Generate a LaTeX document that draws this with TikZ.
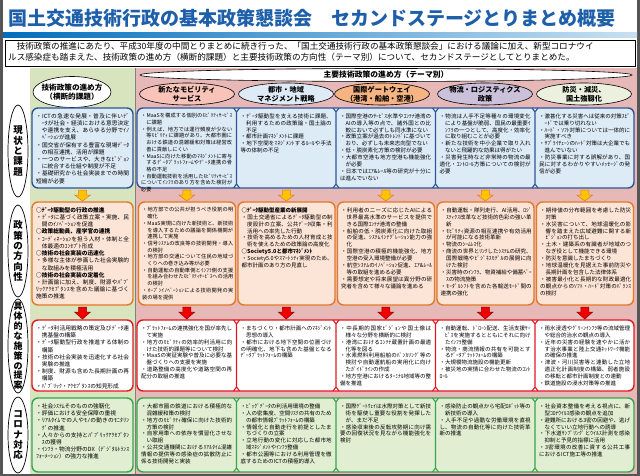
\documentclass[tikz,border=0pt]{standalone}
\usepackage{fontspec}
\setmainfont{Noto Sans CJK JP}
\XeTeXlinebreaklocale "ja"
\XeTeXlinebreakskip=0pt plus 0.6pt
\usepackage{xcolor}
\usepackage{tikz}
\usetikzlibrary{shapes.geometric, positioning, calc}

\definecolor{titleblue}{RGB}{30,95,170}
\definecolor{bandblue}{RGB}{0,110,190}
\definecolor{bandlight}{RGB}{200,225,242}
\definecolor{framegray}{RGB}{85,85,85}
\definecolor{greenbg}{RGB}{215,228,189}
\definecolor{pinkbg}{RGB}{230,185,184}
\definecolor{bluefill}{RGB}{221,235,247}
\definecolor{blueline}{RGB}{47,85,151}
\definecolor{peachfill}{RGB}{252,228,214}
\definecolor{orangeline}{RGB}{226,122,40}
\definecolor{redline}{RGB}{225,25,35}
\definecolor{greenfill}{RGB}{226,238,210}
\definecolor{greenline}{RGB}{55,165,80}
\definecolor{mobyfill}{RGB}{248,196,186}
\definecolor{cityfill}{RGB}{222,235,247}
\definecolor{gatefill}{RGB}{245,180,130}
\definecolor{logifill}{RGB}{204,193,218}
\definecolor{safefill}{RGB}{235,241,222}
\definecolor{arryellow}{RGB}{255,195,0}
\definecolor{arrred}{RGB}{240,0,0}

\newcommand\itm[1]{\par\hangindent=1em\hangafter=1\noindent ・#1}
\newcommand\hd[1]{\par\noindent{\bfseries ○#1}}

\begin{document}
\begin{tikzpicture}[x=1pt,y=-1pt,
  txt/.style={anchor=north west, inner sep=0pt, text width=91pt, align=justify,
    font=\fontsize{5.5}{6.95}\selectfont},
  txts/.style={txt, font=\fontsize{5.2}{6.7}\selectfont},
  panel/.style={rounded corners=6pt, line width=1.4pt},
  issue/.style={panel, draw=blueline, fill=bluefill},
  policy/.style={panel, draw=orangeline, fill=peachfill},
  measure/.style={panel, draw=redline, fill=white},
  corona/.style={panel, draw=greenline, fill=greenfill},
  hdoval/.style={ellipse, draw=black, line width=0.6pt, minimum width=95pt,
    minimum height=22pt, inner sep=0pt},
  hdtxt/.style={align=center, font=\fontsize{7.2}{8.6}\selectfont\bfseries},
  sideoval/.style={ellipse, draw=black, fill=white, line width=0.7pt,
    minimum width=20pt, inner sep=0pt},
  sidetxt/.style={align=center, font=\fontsize{9.5}{10.4}\selectfont\bfseries},
]

\def\pw{640}
\def\ph{476}

\useasboundingbox (0,0) rectangle (\pw,\ph);

% frame and backgrounds
\fill[framegray] (0,0) rectangle (\pw,\ph);
\fill[white] (3,0) rectangle (637,474);
\shade[left color=bandblue, right color=bandlight] (3,33) rectangle (637,38);
\fill[greenbg] (30,68) rectangle (135,474);
\fill[pinkbg] (135,68) rectangle (637,474);
\draw[line width=0.8pt, gray] (135,68) -- (135,474);

% title and intro
\node[anchor=west, inner sep=0pt, text=titleblue, font=\fontsize{19}{19}\selectfont\bfseries] (title) at (8,18)
  {国土交通技術行政の基本政策懇談会　セカンドステージとりまとめ概要};
\draw[line width=0.6pt, fill=white] (5,40) rectangle (635,66);
\node[anchor=north west, inner sep=0pt, align=left, font=\fontsize{8.6}{11}\selectfont] (intro) at (8,42)
  {　技術政策の推進にあたり、平成30年度の中間とりまとめに続き行った、「国土交通技術行政の基本政策懇談会」における議論に加え、新型コロナウイ\\ルス感染症も踏まえた、技術政策の進め方（横断的課題）と主要技術政策の方向性（テーマ別）について、セカンドステージとしてとりまとめた。};

% headers
\node[hdoval, fill=white, minimum width=78pt, minimum height=31pt,
  label={[hdtxt, font=\fontsize{7.6}{9.4}\selectfont\bfseries]center:技術政策の進め方\\（横断的課題）}] (h1) at (72,92) {};
\node[ellipse, draw=black, fill=white, line width=0.6pt, minimum width=492pt, minimum height=13pt, inner sep=0pt,
  label={[hdtxt, font=\fontsize{7.8}{9}\selectfont\bfseries]center:主要技術政策の進め方（テーマ別）}] (htop) at (386,75) {};
\node[hdoval, fill=mobyfill, label={[hdtxt]center:新たなモビリティ\\サービス}] (h2) at (187,94) {};
\node[hdoval, fill=cityfill, label={[hdtxt]center:都市・地域\\マネジメント戦略}] (h3) at (286,94) {};
\node[hdoval, fill=gatefill, label={[hdtxt]center:国際ゲートウェイ\\（港湾・船舶・空港）}] (h4) at (382,94) {};
\node[hdoval, fill=logifill, label={[hdtxt]center:物流・ロジスティクス\\政策}] (h5) at (485,94) {};
\node[hdoval, fill=safefill, label={[hdtxt]center:防災・減災、\\国土強靱化}] (h6) at (584,94) {};

% side labels
\node[sideoval, minimum height=92pt, label={[sidetxt]center:現\\状\\と\\課\\題}] (s1) at (18,151) {};
\node[sideoval, minimum height=92pt, label={[sidetxt]center:政\\策\\の\\方\\向\\性}] (s2) at (18,251) {};
\node[sideoval, minimum height=94pt, label={[sidetxt, font=\fontsize{9}{9.9}\selectfont\bfseries]center:具\\体\\的\\な\\施\\策\\の\\提\\案}] (s3) at (18,346) {};
\node[sideoval, minimum height=76pt, label={[sidetxt]center:コ\\ロ\\ナ\\対\\応}] (s4) at (18,435) {};

% row panels
\draw[issue] (32,108) rectangle (133,188);
\draw[issue] (137,108) rectangle (634,188);
\foreach \x in {236.5,336,435.5,535} {
  \draw[blueline, line width=1.1pt] (\x-3,108) -- (\x,112) -- (\x+3,108) (\x,112) -- (\x,184) (\x-3,188) -- (\x,184) -- (\x+3,188);
}

\draw[policy] (32,202) rectangle (133,305);
\foreach \x in {137,236.5,336,435.5,535} {
  \draw[policy] (\x+1.5,202) rectangle (\x+98.5,305);
}

\draw[measure] (32,320) rectangle (133,391);
\draw[measure] (137,320) rectangle (634,391);
\foreach \x in {236.5,336,435.5,535} {
  \draw[redline, line width=1.1pt] (\x-3,320) -- (\x,324) -- (\x+3,320) (\x,324) -- (\x,387) (\x-3,391) -- (\x,387) -- (\x+3,391);
}

\draw[corona] (32,398) rectangle (133,472);
\draw[corona] (137,398) rectangle (634,472);
\foreach \x in {236.5,336,435.5,535} {
  \draw[greenline, line width=1.1pt] (\x-3,398) -- (\x,402) -- (\x+3,398) (\x,402) -- (\x,468) (\x-3,472) -- (\x,468) -- (\x+3,472);
}

% arrows between rows
\foreach \x in {82.5,186.75,286.25,385.75,485.25,584.75} {
  \filldraw[fill=arryellow, draw=orangeline, line width=0.5pt]
    (\x-4,190) -- (\x+4,190) -- (\x+4,195) -- (\x+8,195) -- (\x,201) -- (\x-8,195) -- (\x-4,195) -- cycle;
  \filldraw[fill=arrred, draw=red!60!black, line width=0.5pt]
    (\x-4,307) -- (\x+4,307) -- (\x+4,312) -- (\x+8,312) -- (\x,319) -- (\x-8,312) -- (\x-4,312) -- cycle;
}

% row 1: current state and issues
\node[txt, text width=93pt, font=\fontsize{5.7}{7.2}\selectfont] (t11) at (36,111) {%
  \itm{ICTの急速な発展・普及に伴いﾃﾞｰﾀが社会・経済における意思決定や連携を支え、あらゆる分野でｲﾉﾍﾞｰｼｮﾝが進展}
  \itm{国交省が保有する豊富な現場ﾃﾞｰﾀの相互連携、活用が課題}
  \itm{一つのサービスや、大きなﾋﾞｼﾞｮﾝに統合する仕組や制度が不足}
  \itm{基礎研究から社会実装までの時間短縮が必要}};
\node[txts] (t21) at (141,111) {%
  \itm{MaaSを構成する個別のﾓﾋﾞﾘﾃｨｻｰﾋﾞｽに課題}
  \itm{例えば、地方では運行頻度が少ない等ﾓﾋﾞﾘﾃｨに課題があり、大都市圏における鉄道の混雑緩和対策は経営改善に貢献しにくい}
  \itm{MaaSに向けた移動のﾏﾈｼﾞﾒﾝﾄに寄与するﾃﾞｰﾀﾌﾟﾗｯﾄﾌｫｰﾑやﾃﾞｰﾀ連携の骨格の不足}
  \itm{自動運転技術を活用したﾓﾋﾞﾘﾃｨｻｰﾋﾞｽについてｲﾝﾌﾗのあり方を含めた検討が必要}};
\node[txt] (t31) at (240.5,111) {%
  \itm{ﾃﾞｰﾀ駆動型を支える技術に課題、利用するための政策論・国土論の不足}
  \itm{都市計画ﾏﾈｼﾞﾒﾝﾄに課題}
  \itm{地下空間をﾏﾈｼﾞﾒﾝﾄするﾙｰﾙや手法等の体制の不足}};
\node[txt] (t41) at (340,111) {%
  \itm{国際空港のｻｰﾋﾞｽ水準やｺﾝﾃﾅ港湾のAIの導入等の点で、諸外国との比較において必ずしも同水準にない}
  \itm{政策立案が過去のﾄﾚﾝﾄﾞに基づいており、必ずしも未来志向型でない}
  \itm{低・脱炭素化方策の検討が必要}
  \itm{大都市空港も地方空港も機能強化が必要}
  \itm{日本ではｴｱ\&ﾚｰﾙ等の研究が十分には進んでいない}};
\node[txt] (t51) at (439.5,111) {%
  \itm{物流は人手不足等種々の環境変化により基盤が脆弱、国民の最重要ｲﾝﾌﾗの一つとして、高度化・効率化に取り組むことが必要}
  \itm{新たな技術を中小企業で取り入れないと飛躍的な効果は得がたい}
  \itm{災害発生時など非常時の物流の最適化・ｺﾝﾄﾛｰﾙ方策についての検討が必要}};
\node[txt] (t61) at (539,111) {%
  \itm{激甚化する災害へは従来の対策ｽﾋﾟｰﾄﾞでは乗り切れない}
  \itm{ﾊｰﾄﾞ・ｿﾌﾄ対策については一体的に実施すべき}
  \itm{ｻﾌﾟﾗｲﾁｪｰﾝのﾊｰﾄﾞ対策は大企業でも進んでいない}
  \itm{防災事業に対する誤解があり、国民に対するわかりやすいﾒｯｾｰｼﾞの発信が必要}};

% row 2: policy direction
\node[txt, text width=93pt, font=\fontsize{5.7}{7.2}\selectfont] (t12) at (36,205) {%
  \hd{ﾃﾞｰﾀ駆動型の行政の推進}
  \itm{ﾃﾞｰﾀに基づく政策立案・実施、民間のｲﾉﾍﾞｰｼｮﾝを促進}
  \hd{政策総動員、産学官の連携}
  \itm{ｺｰﾃﾞｨﾈｰｼｮﾝを担う人材・体制と全体最適のｺﾝｾﾌﾟﾄ形成}
  \hd{技術の社会実装の迅速化}
  \itm{多様な主体が参画した社会実験的な取組みを積極活用}
  \hd{技術の社会実装の定着化}
  \itm{計画論に加え、制度、財源やﾊﾟﾌﾞﾘｯｸｱｸｾﾌﾟﾀﾝｽを含めた議論に基づく施策の推進}};
\node[txts] (t22) at (142,205) {%
  \itm{地方部での公共が担うべき役割の明確化}
  \itm{MaaS実現に向けた新技術と、新技術を導入するための議論を関係機関が連携して実施}
  \itm{信号ｼｽﾃﾑの改良等の技術開発・導入の検討}
  \itm{地方部の交通について住民の地域づくりへの巻き込み等が必要}
  \itm{自動運転の自動車側とｲﾝﾌﾗ側の支援を組み合わせたﾓﾋﾞﾘﾃｨｻｰﾋﾞｽへの活用の検討}
  \itm{ｵｰﾌﾟﾝｲﾉﾍﾞｰｼｮﾝによる技術開発の実装の場を提供}};
\node[txt] (t32) at (241.5,205) {%
  \hd{ﾃﾞｰﾀ駆動型産業の新展開}
  \itm{国土交通省によるﾃﾞｰﾀ駆動型の制度設計の立案、公共ﾃﾞｰﾀ収集・利活用への率先した行動}
  \itm{技術を高めるための人材育成と技術を使えるための政策論の高度化}
  \hd{Society5.0と都市ﾏﾈｼﾞﾒﾝﾄ}
  \itm{Society5.0やｽﾏｰﾄｼﾃｨ実現のため、都市計画のあり方の見直し}};
\node[txt] (t42) at (341,205) {%
  \itm{利用者のニーズに応じたAIによる世界最高水準のサービスを提供できる国際ｺﾝﾃﾅ港湾の整備}
  \itm{船舶の低・脱炭素化に向けた取組の促進、ｼｽﾃﾑｲﾝﾃｸﾞﾚｰｼｮﾝ能力の強化}
  \itm{国際空港の積極的機能強化、地方空港の受入環境整備が必要}
  \itm{航空ｼｽﾃﾑのｲﾉﾍﾞｰｼｮﾝ促進、ｴｱ\&ﾚｰﾙ等の取組を進める必要}
  \itm{需要想定や将来展望は異分野の研究者を含めて様々な議論を進める}};
\node[txt] (t52) at (440.5,205) {%
  \itm{自動運転・隊列走行、AI活用、ﾛｼﾞｽﾃｨｸｽ改革など技術的色彩の強い革新}
  \itm{ﾓﾋﾞﾘﾃｨ資源の相互連携や有効活用が可能になる技術革新}
  \itm{物流のｼｰﾑﾚｽ化}
  \itm{商流の世界とﾘﾝｸしたｼｽﾃﾑの研究、国際戦略やﾋﾞｼﾞﾈｽﾓﾃﾞﾙの展開に向けた検討}
  \itm{災害時のｲﾝﾌﾗ、物資補給や備蓄ﾍﾞｰｽの物流施策}
  \itm{ﾓｰﾀﾞﾙｼﾌﾄを含めた各輸送ﾓｰﾄﾞ間の連携の強化}};
\node[txt] (t62) at (540,205) {%
  \itm{期待値の分布範囲を考慮した防災対策}
  \itm{水災害について、地球温暖化の影響を踏まえた広域避難に関する新ﾋﾞｼﾞｮﾝの打ち出し}
  \itm{土木・建築系の有識者が地域のつなぎ役として機能できる環境}
  \itm{防災を意識したまちづくり}
  \itm{地球温暖化を見据えた事前防災や長期計画を包含した法律体系}
  \itm{被害最小化と長期的な財政最適化の観点からのｿﾌﾄ・ﾊｰﾄﾞ対策のﾊﾞﾗﾝｽの検討}};

% row 3: concrete measures
\node[txt, text width=93pt, font=\fontsize{5.7}{7.2}\selectfont] (t13) at (36,323) {%
  \itm{ﾃﾞｰﾀ利活用戦略の策定及びﾃﾞｰﾀ連携基盤の構築}
  \itm{ﾃﾞｰﾀ駆動型行政を推進する体制の構築}
  \itm{技術の社会実装を迅速化する社会実験の推進}
  \itm{制度、財源も含めた長期計画の再構築}
  \itm{ﾊﾟﾌﾞﾘｯｸ・ｱｸｾﾌﾟﾀﾝｽの知見形成}};
\node[txt] (t23) at (141,323) {%
  \itm{ﾌﾟﾗｯﾄﾌｫｰﾑの連携強化を国が率先して実施}
  \itm{地方のﾓﾋﾞﾘﾃｨの効率的利活用に向けた技術的課題等について検討}
  \itm{MaaSの実証実験や普及に必要な基盤づくりへの支援を実施}
  \itm{道路整備の高度化や道路空間の再配分の取組の推進}};
\node[txt] (t33) at (240.5,323) {%
  \itm{まちづくり・都市計画へのﾏﾈｼﾞﾒﾝﾄ思想の導入}
  \itm{都市における地下空間の位置づけの明確化、地下も含めた基盤となるﾃﾞｰﾀﾌﾟﾗｯﾄﾌｫｰﾑの構築}};
\node[txt] (t43) at (340,323) {%
  \itm{中長期的国家ﾋﾞｼﾞｮﾝや国土像は様々な分野を横断的に検討}
  \itm{港湾におけるｺﾝﾃﾅ蔵置計画の最適化等を図る}
  \itm{水素燃料利用船舶のﾊﾞﾝｶﾘﾝｸﾞ等の検討や自動運航船の実用化に向けたｶﾞｲﾄﾞﾗｲﾝの作成}
  \itm{地方空港におけるﾀｰﾐﾅﾙ地域等の整備を推進}};
\node[txt] (t53) at (439.5,323) {%
  \itm{自動運転、ﾄﾞﾛｰﾝ配送、生活支援ｻｰﾋﾞｽを実施するとともにそれに向けたｲﾝﾌﾗ整備}
  \itm{物流・商流情報の共有を可能とするﾃﾞｰﾀﾌﾟﾗｯﾄﾌｫｰﾑの構築}
  \itm{大規模物流施設の機能更新}
  \itm{被災地の実情に合わせた物流のｺﾝﾄﾛｰﾙ}};
\node[txt] (t63) at (539,323) {%
  \itm{雨水浸透やｸﾞﾘｰﾝｲﾝﾌﾗ等の流域管理や総合的治水の観点の導入}
  \itm{近年の災害の経験を速やかに活かす治水事業と陸上交通ﾈｯﾄﾜｰｸ機能の確保の推進}
  \itm{津波・河川災害等と連動した立地適正化計画制度の構築、弱者施設の移転と都市計画制度との連動}
  \itm{鉄道施設の浸水対策等の推進}};

% row 4: corona response
\node[txt, text width=93pt, font=\fontsize{5.7}{7.2}\selectfont] (t14) at (36,401) {%
  \itm{社会ｼｽﾃﾑそのものの強靭化}
  \itm{評価における安全保障の重視}
  \itm{ﾘｱﾙﾀｲﾑでの人やﾓﾉの動きのﾓﾆﾀﾘﾝｸﾞの推進}
  \itm{人々からの支持とﾊﾟﾌﾞﾘｯｸｱｸｾﾌﾟﾀﾝｽの獲得}
  \itm{ｲﾝﾌﾗ・物流分野のDX（ﾃﾞｼﾞﾀﾙﾄﾗﾝｽﾌｫｰﾒｰｼｮﾝ）の強力な推進}};
\node[txt] (t24) at (141,401) {%
  \itm{大都市圏の鉄道における積極的な混雑緩和策の検討}
  \itm{地方のﾓﾋﾞﾘﾃｨ確保に向けた技術的方策の検討}
  \itm{自家用車への依存を慣習化させない取組}
  \itm{公共交通機関におけるﾘｱﾙﾀｲﾑ混雑情報の提供等の感染症の拡散防止に係る技術開発と実装}};
\node[txt] (t34) at (240.5,401) {%
  \itm{ﾋﾞｯｸﾞﾃﾞｰﾀの利活用環境の整備}
  \itm{人の密集度、空間ﾘｽｸの共有のための都市情報ﾌﾟﾗｯﾄﾌｫｰﾑの構築}
  \itm{情報化と自動走行を前提としたまちづくりの立案}
  \itm{立地行動の変化に対応した都市地域ﾏﾈｼﾞﾒﾝﾄやｲﾝﾌﾗ整備}
  \itm{都市公園等における利用管理を徹底するためのICTの積極的導入}};
\node[txt] (t44) at (340,401) {%
  \itm{国際ｹﾞｰﾄｳｪｲは水際対策として新技術を駆使し重要な役割を発揮したが、まだ不足}
  \itm{感染収束後の反転攻勢期に向け需要の回復状況を見ながら機能強化を検討}};
\node[txt] (t54) at (439.5,401) {%
  \itm{感染防止の観点から宅配ﾛﾎﾞｯﾄ等の新技術の導入}
  \itm{人手不足や過酷な労働環境を直視し、物流の自動化等に向けた技術革新の推進}};
\node[txt] (t64) at (539,401) {%
  \itm{社会資本整備を考える視点に、新型ｺﾛﾅｳｲﾙｽ感染の観点を追加}
  \itm{避難所における3密の回避や、逃げなくていい立地行動への誘導}
  \itm{下水道ｻﾝﾌﾟﾘﾝｸﾞとｳｲﾙｽ計測を感染抑制と予見的指標に活用}
  \itm{3密環境の改善に資する公共工事におけるICT施工等の推進}};

\end{tikzpicture}
\end{document}
